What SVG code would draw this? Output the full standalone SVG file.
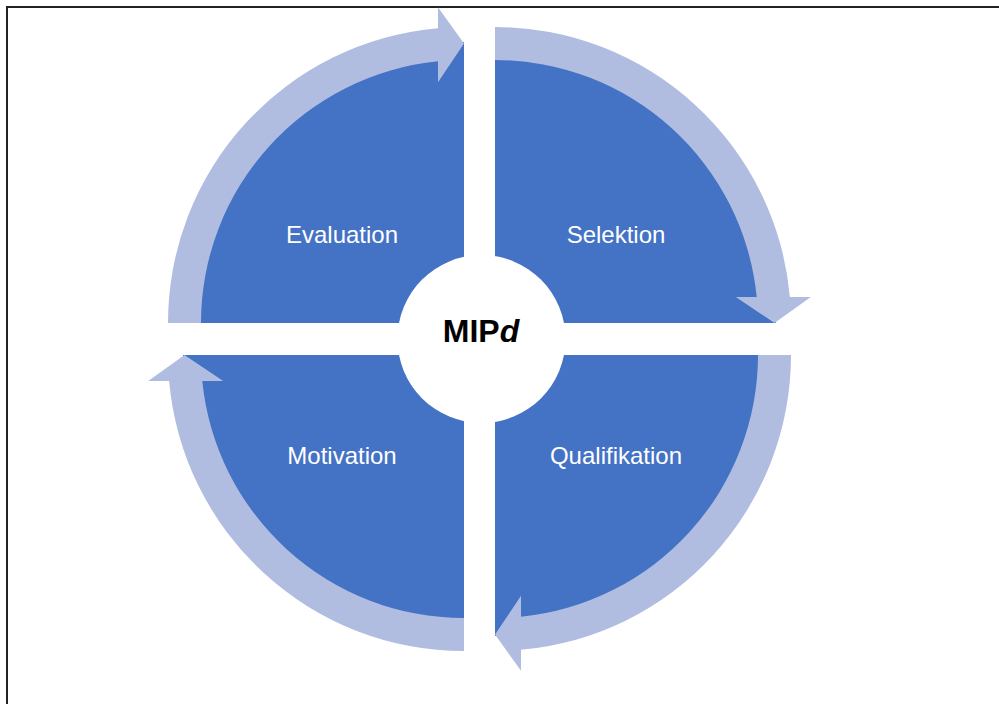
<svg xmlns="http://www.w3.org/2000/svg" xmlns:xlink="http://www.w3.org/1999/xlink" width="999" height="704" viewBox="0 0 999 704">
  <style>
    .quad { fill: #4472C4; }
    .band { fill: #B0BDE0; }
    .label { font-family: "Liberation Sans", Arial, sans-serif; font-size: 24px; fill: #FFFFFF; text-anchor: middle; }
    .core { font-family: "Liberation Sans", Arial, sans-serif; font-size: 32px; font-weight: bold; fill: #000000; text-anchor: middle; }
    .frame { fill: none; stroke: #222222; stroke-width: 2; }
  </style>
  <defs>
    <!-- quarter disk, corner at the origin, opening to the upper left -->
    <path id="quarter" class="quad" d="M 0 0 L -281 0 A 281 281 0 0 1 0 -281 Z"/>
    <!-- curved band running clockwise from left to top, ending in an arrowhead -->
    <path id="arc-arrow" class="band" d="M -296 0 A 296 296 0 0 1 -26 -294.86 L -26 -315.8 L 0 -279.5 L -26 -240.8 L -26 -261.7 A 263 263 0 0 0 -263 0 Z"/>
  </defs>

  <rect x="0" y="0" width="999" height="704" fill="#FFFFFF"/>
  <path class="frame" d="M 7 704 V 7 H 999"/>

  <g id="evaluation">
    <use xlink:href="#quarter" transform="translate(464,323)"/>
    <text class="label" x="342" y="243">Evaluation</text>
  </g>
  <g id="selektion">
    <use xlink:href="#quarter" transform="translate(495,323) rotate(90)"/>
    <text class="label" x="616" y="243">Selektion</text>
  </g>
  <g id="qualifikation">
    <use xlink:href="#quarter" transform="translate(495,355) rotate(180)"/>
    <text class="label" x="616" y="464">Qualifikation</text>
  </g>
  <g id="motivation">
    <use xlink:href="#quarter" transform="translate(464,355) rotate(270)"/>
    <text class="label" x="342" y="464">Motivation</text>
  </g>

  <g id="connectors">
    <use xlink:href="#arc-arrow" transform="translate(464,323)"/>
    <use xlink:href="#arc-arrow" transform="translate(495,323) rotate(90)"/>
    <use xlink:href="#arc-arrow" transform="translate(495,355) rotate(180)"/>
    <use xlink:href="#arc-arrow" transform="translate(464,355) rotate(270)"/>
  </g>

  <g id="mipd">
    <circle cx="481.5" cy="339" r="84" fill="#FFFFFF"/>
    <text class="core" x="481" y="342">MIP<tspan font-style="italic">d</tspan></text>
  </g>
</svg>
